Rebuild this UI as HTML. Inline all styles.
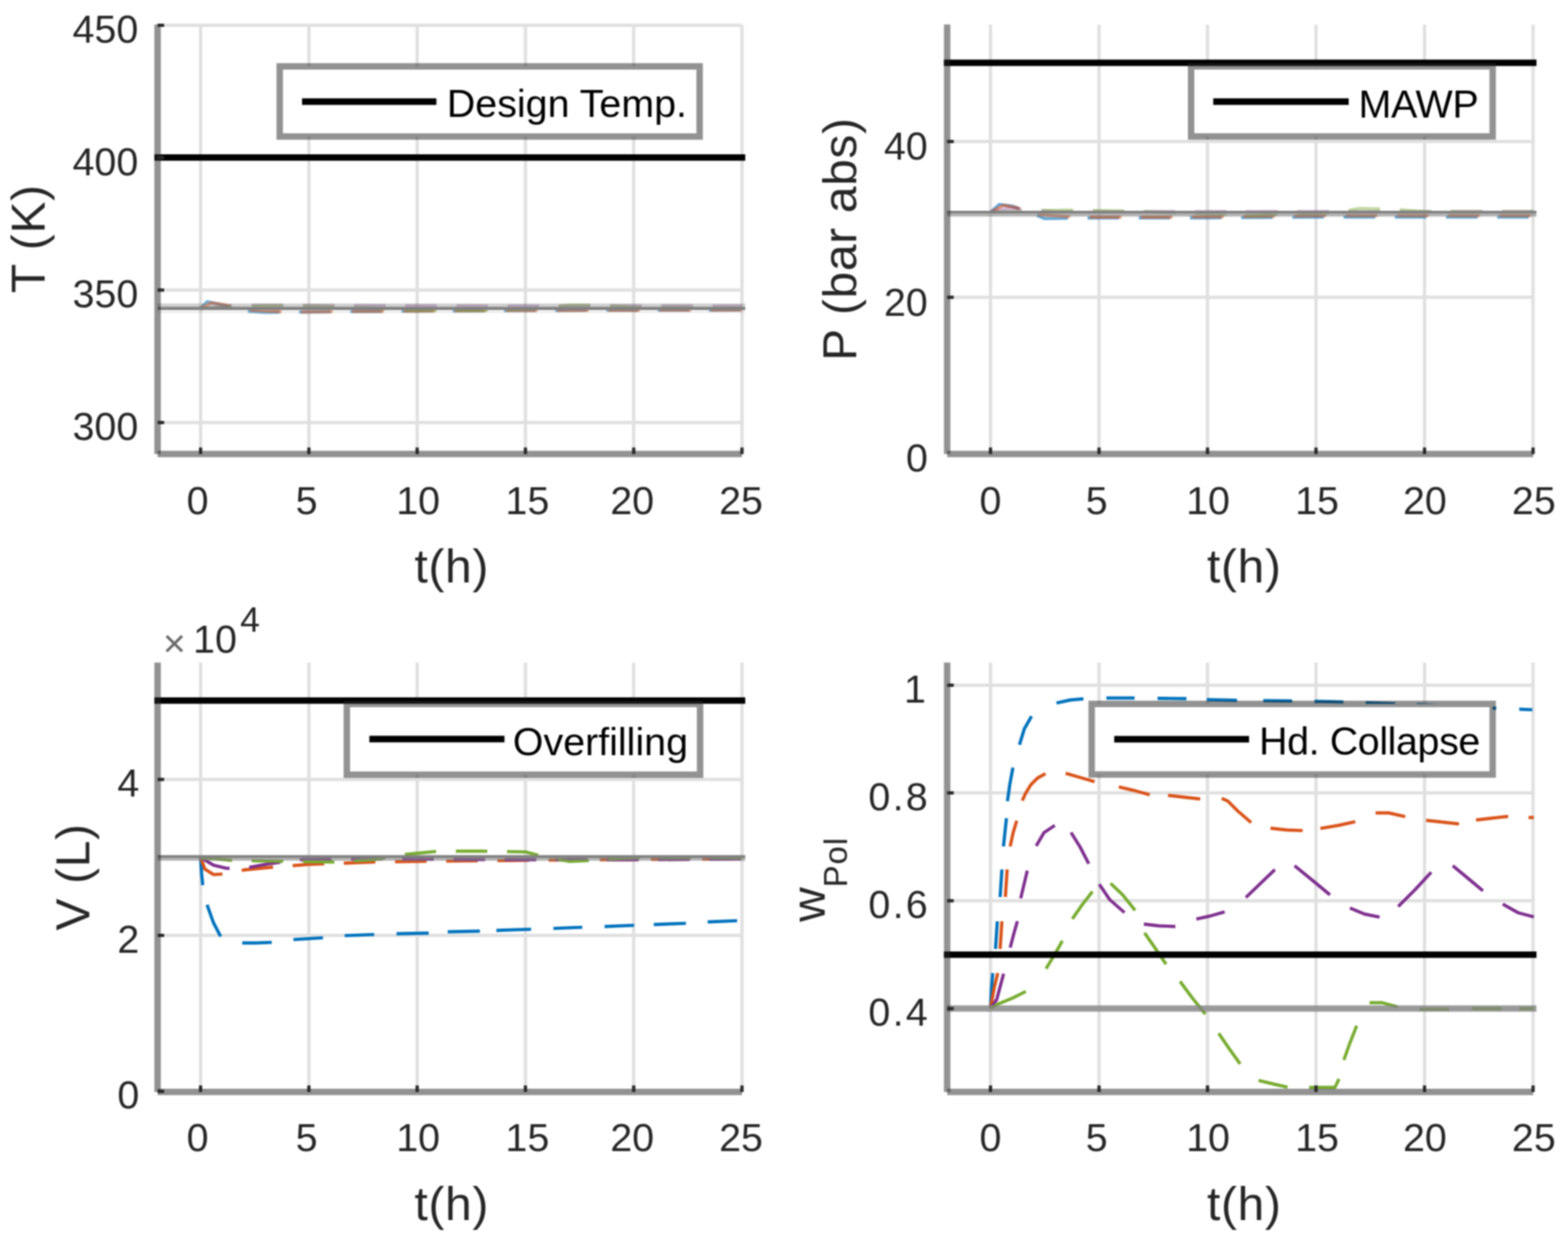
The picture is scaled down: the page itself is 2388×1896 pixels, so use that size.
<!DOCTYPE html>
<html><head><meta charset="utf-8"><title>Figure</title>
<style>html,body{margin:0;padding:0;background:#fff;overflow:hidden}svg{display:block;filter:blur(0.8px)}</style>
</head><body>
<svg width="2388" height="1896" viewBox="0 0 2388 1896">
<style>text{font-family:"Liberation Sans", Arial, Helvetica, sans-serif;fill:#262626} .tk{font-size:60px} .lb{font-size:73px;letter-spacing:1px} .lg{font-size:60px;fill:#000}</style>
<rect width="2388" height="1896" fill="#fff"/>
<path d="M305.5 38.4V691.4M470.4 38.4V691.4M635.3 38.4V691.4M800.2 38.4V691.4M965.1 38.4V691.4M1130 38.4V691.4M240 643.5H1130M240 441.8H1130M240 240.1H1130M240 38.4H1130" stroke="#e0e0e0" stroke-width="5" fill="none"/>
<path d="M305.5 469.2 L315.4 459.5 L335.2 463.6 L364.9 473.3 L404.4 475.7 L503.4 474.9 L635.3 473.7 L800.2 472.9 L965.1 472.5 L1130 472.1" stroke="#0072BD" stroke-width="4.9" fill="none" stroke-dasharray="48 30" stroke-linejoin="round" stroke-opacity="0.55"/>
<path d="M305.5 469.2 L322 461.2 L341.8 464 L378.1 472.1 L437.4 475.3 L569.3 474.1 L767.2 472.9 L965.1 472.5 L1130 472.1" stroke="#D95319" stroke-width="4.9" fill="none" stroke-dasharray="48 30" stroke-linejoin="round" stroke-opacity="0.55"/>
<path d="M305.5 470 L355 465.2 L404.4 464.8 L503.4 465.2 L635.3 465.6 L800.2 466 L965.1 465.6 L1130 466" stroke="#7E2F8E" stroke-width="4.9" fill="none" stroke-dasharray="48 30" stroke-linejoin="round" stroke-opacity="0.35"/>
<path d="M305.5 470 L371.5 466 L437.4 465.2 L536.4 468 L635.3 472.5 L734.2 472.9 L833.2 469.2 L866.2 464.4 L915.6 464.8 L965.1 468 L1130 469.2" stroke="#77AC30" stroke-width="4.9" fill="none" stroke-dasharray="48 30" stroke-linejoin="round" stroke-opacity="0.45"/>
<path d="M240 464.7H1135" stroke="#808080" stroke-opacity="0.38" stroke-width="5" fill="none"/>
<path d="M240 469.6H1135" stroke="#808080" stroke-opacity="1" stroke-width="4.8" fill="none"/>
<path d="M240 474.4H1135" stroke="#808080" stroke-opacity="0.12" stroke-width="5" fill="none"/>
<path d="M235 239.8H1135" stroke="#000" stroke-width="9.8" fill="none"/>
<rect x="426" y="101.1" width="639.5" height="106.8" fill="#fff"/>
<rect x="426" y="101.1" width="639.5" height="106.8" fill="none" stroke="#262626" stroke-opacity="0.5" stroke-width="9.8"/>
<path d="M460 154.7H664.6" stroke="#000" stroke-width="10"/>
<text x="680.5" y="178.4" class="lg" style="letter-spacing:0px">Design Temp.</text>
<path d="M305.5 681.4V691.4M470.4 681.4V691.4M635.3 681.4V691.4M800.2 681.4V691.4M965.1 681.4V691.4M1130 681.4V691.4M240 643.5H250M240 441.8H250M240 240.1H250M240 38.4H250" stroke="#2b2b2b" stroke-width="5" fill="none"/>
<path d="M240 37.2V691.4" stroke="#262626" stroke-opacity="0.5" stroke-width="9.8" fill="none"/>
<path d="M240 691.4H1130" stroke="#262626" stroke-opacity="0.5" stroke-width="9.8" fill="none"/>
<text x="301" y="782.5" text-anchor="middle" class="tk">0</text>
<text x="466.9" y="782.5" text-anchor="middle" class="tk">5</text>
<text x="636.8" y="782.5" text-anchor="middle" class="tk">10</text>
<text x="803.2" y="782.5" text-anchor="middle" class="tk">15</text>
<text x="962.8" y="782.5" text-anchor="middle" class="tk">20</text>
<text x="1128.5" y="782.5" text-anchor="middle" class="tk">25</text>
<text x="210.5" y="670" text-anchor="end" class="tk">300</text>
<text x="210.5" y="468.3" text-anchor="end" class="tk">350</text>
<text x="210.5" y="266.6" text-anchor="end" class="tk">400</text>
<text x="210.5" y="64.9" text-anchor="end" class="tk">450</text>
<text x="688" y="887" text-anchor="middle" class="lb">t(h)</text>
<text transform="translate(67.5,363.5) rotate(-90)" text-anchor="middle" class="lb">T (K)</text>
<path d="M1508.5 37.4V691.4M1673.8 37.4V691.4M1839 37.4V691.4M2004.2 37.4V691.4M2169.5 37.4V691.4M2334.8 37.4V691.4M1442.5 452.8H2335M1442.5 215.4H2335" stroke="#e0e0e0" stroke-width="5" fill="none"/>
<path d="M1508.5 323.4 L1521.7 311.5 L1541.5 313.9 L1564.7 322.2 L1591.1 332.9 L1673.8 331.7 L1839 331.7 L2004.2 330.5 L2169.5 330.5 L2334.8 330.5" stroke="#0072BD" stroke-width="4.9" fill="none" stroke-dasharray="48 30" stroke-linejoin="round" stroke-opacity="0.6"/>
<path d="M1508.5 323.4 L1528.3 312.7 L1548.2 316.3 L1581.2 327 L1640.7 330.5 L1772.9 330.5 L1905.1 329.4 L2037.3 328.2 L2334.8 328.2" stroke="#D95319" stroke-width="4.9" fill="none" stroke-dasharray="48 30" stroke-linejoin="round" stroke-opacity="0.6"/>
<path d="M1508.5 323.4 L1534.9 317.5 L1564.7 318.7 L1607.7 322.2 L1772.9 322.2 L1971.2 322.2 L2334.8 322.2" stroke="#7E2F8E" stroke-width="4.9" fill="none" stroke-dasharray="48 30" stroke-linejoin="round" stroke-opacity="0.35"/>
<path d="M1508.5 323.4 L1574.6 321 L1640.7 319.9 L1739.8 322.2 L1905.1 328.2 L2037.3 323.4 L2070.3 317.5 L2119.9 318.7 L2169.5 322.2 L2334.8 322.2" stroke="#77AC30" stroke-width="4.9" fill="none" stroke-dasharray="48 30" stroke-linejoin="round" stroke-opacity="0.45"/>
<path d="M1442.5 323H2340" stroke="#808080" stroke-opacity="1" stroke-width="4" fill="none"/>
<path d="M1442.5 327.4H2340" stroke="#808080" stroke-opacity="0.6" stroke-width="4.8" fill="none"/>
<path d="M1437.5 95.7H2340" stroke="#000" stroke-width="9.8" fill="none"/>
<rect x="1814" y="101" width="459.3" height="106.8" fill="#fff"/>
<rect x="1814" y="101" width="459.3" height="106.8" fill="none" stroke="#262626" stroke-opacity="0.5" stroke-width="9.8"/>
<path d="M1847.7 154.8H2054" stroke="#000" stroke-width="10"/>
<text x="2069" y="178.5" class="lg" style="letter-spacing:-0.5px">MAWP</text>
<path d="M1508.5 681.4V691.4M1673.8 681.4V691.4M1839 681.4V691.4M2004.2 681.4V691.4M2169.5 681.4V691.4M2334.8 681.4V691.4M1442.5 452.8H1452.5M1442.5 215.4H1452.5" stroke="#2b2b2b" stroke-width="5" fill="none"/>
<path d="M1442.5 37.2V691.4" stroke="#262626" stroke-opacity="0.5" stroke-width="9.8" fill="none"/>
<path d="M1442.5 691.4H2335" stroke="#262626" stroke-opacity="0.5" stroke-width="9.8" fill="none"/>
<text x="1508.5" y="782.5" text-anchor="middle" class="tk">0</text>
<text x="1670.2" y="782.5" text-anchor="middle" class="tk">5</text>
<text x="1839.8" y="782.5" text-anchor="middle" class="tk">10</text>
<text x="2005.8" y="782.5" text-anchor="middle" class="tk">15</text>
<text x="2170" y="782.5" text-anchor="middle" class="tk">20</text>
<text x="2335.9" y="782.5" text-anchor="middle" class="tk">25</text>
<text x="1413" y="718.2" text-anchor="end" class="tk">0</text>
<text x="1413" y="480.8" text-anchor="end" class="tk">20</text>
<text x="1413" y="243.4" text-anchor="end" class="tk">40</text>
<text x="1895" y="887" text-anchor="middle" class="lb">t(h)</text>
<text transform="translate(1304,364) rotate(-90)" text-anchor="middle" class="lb">P (bar abs)</text>
<path d="M305.5 1009V1662.9M470.4 1009V1662.9M635.3 1009V1662.9M800.2 1009V1662.9M965.1 1009V1662.9M1130 1009V1662.9M240 1424.5H1130M240 1187H1130" stroke="#e0e0e0" stroke-width="5" fill="none"/>
<path d="M305.5 1305.8 L307.0 1330.0 L309.0 1350.0 L314.7 1376.0 L325.0 1405.0 L337.0 1428.0 L350.0 1434.0 L367.0 1436.0 L391.0 1436.0 L416.0 1435.0 L445.0 1431.0 L494.0 1428.0 L523.0 1425.0 L572.0 1423.0 L602.0 1422.0 L655.0 1421.0 L680.0 1419.0 L733.0 1418.0 L754.0 1417.0 L811.0 1415.0 L841.0 1414.0 L889.0 1412.0 L919.0 1411.0 L968.0 1409.0 L994.0 1408.0 L1047.0 1406.0 L1076.0 1404.0 L1125.0 1402.0 L1130.0 1401.5" stroke="#0072BD" stroke-width="4.9" fill="none" stroke-dasharray="42.3 30.6 52.7 35.4 45.0 33.3 45.1 33.2 45.0 34.0 49.0 29.1 49.0 25.0 53.0 34.0 44.0 34.0 45.0 30.0 49.0 33.1 45.0 1005.0" stroke-linejoin="round"/>
<path d="M305.5 1305.8 L312.1 1323.6 L325.3 1331.9 L345.1 1330.7 L371.5 1324.8 L420.9 1320 L470.4 1316.4 L569.3 1312.9 L635.3 1311.7 L767.2 1310.5 L899.1 1309.3 L1130 1308.1" stroke="#D95319" stroke-width="4.9" fill="none" stroke-dasharray="48 30" stroke-linejoin="round"/>
<path d="M305.5 1305.8 L325.3 1317.6 L345.1 1322.4 L378.1 1321.2 L411 1315.2 L453.9 1309.3 L569.3 1308.1 L800.2 1309.3 L965.1 1309.3 L1130 1308.1" stroke="#7E2F8E" stroke-width="4.9" fill="none" stroke-dasharray="48 30" stroke-linejoin="round"/>
<path d="M305.5 1305.8 L355 1310.5 L437.4 1311.7 L503.4 1312.9 L569.3 1309.3 L618.8 1301 L668.3 1296.2 L734.2 1296.2 L800.2 1297.4 L833.2 1305.8 L866.2 1311.7 L899.1 1310.5 L965.1 1305.8 L1130 1305.8" stroke="#77AC30" stroke-width="4.9" fill="none" stroke-dasharray="48 30" stroke-linejoin="round"/>
<path d="M240 1304.5H1135" stroke="#808080" stroke-opacity="1" stroke-width="4.4" fill="none"/>
<path d="M240 1308.8H1135" stroke="#808080" stroke-opacity="0.6" stroke-width="4.1" fill="none"/>
<path d="M235 1066.8H1135" stroke="#000" stroke-width="9.8" fill="none"/>
<rect x="528.2" y="1072" width="538" height="107.8" fill="#fff"/>
<rect x="528.2" y="1072" width="538" height="107.8" fill="none" stroke="#262626" stroke-opacity="0.5" stroke-width="9.8"/>
<path d="M562.5 1125.6H768.3" stroke="#000" stroke-width="10"/>
<text x="781" y="1149.5" class="lg" style="letter-spacing:0px">Overfilling</text>
<path d="M305.5 1652.9V1662.9M470.4 1652.9V1662.9M635.3 1652.9V1662.9M800.2 1652.9V1662.9M965.1 1652.9V1662.9M1130 1652.9V1662.9M240 1662H250M240 1424.5H250M240 1187H250" stroke="#2b2b2b" stroke-width="5" fill="none"/>
<path d="M240 1009.1V1662.9" stroke="#262626" stroke-opacity="0.5" stroke-width="9.8" fill="none"/>
<path d="M240 1662.9H1130" stroke="#262626" stroke-opacity="0.5" stroke-width="9.8" fill="none"/>
<text x="301" y="1753" text-anchor="middle" class="tk">0</text>
<text x="466.9" y="1753" text-anchor="middle" class="tk">5</text>
<text x="636.8" y="1753" text-anchor="middle" class="tk">10</text>
<text x="803.2" y="1753" text-anchor="middle" class="tk">15</text>
<text x="962.8" y="1753" text-anchor="middle" class="tk">20</text>
<text x="1128.5" y="1753" text-anchor="middle" class="tk">25</text>
<text x="212" y="1688" text-anchor="end" class="tk">0</text>
<text x="212" y="1450.5" text-anchor="end" class="tk">2</text>
<text x="212" y="1213" text-anchor="end" class="tk">4</text>
<text x="688" y="1857.6" text-anchor="middle" class="lb">t(h)</text>
<text transform="translate(135.5,1335.5) rotate(-90)" text-anchor="middle" class="lb">V (L)</text>
<text x="248" y="993.7" class="tk"><tspan fill="#6a6a6a" dy="6">×</tspan><tspan dx="11" dy="-6">10</tspan><tspan dx="5" dy="-32" style="font-size:54px">4</tspan></text>
<path d="M1508.5 1009V1662.9M1673.8 1009V1662.9M1839 1009V1662.9M2004.2 1009V1662.9M2169.5 1009V1662.9M2334.8 1009V1662.9M1442.5 1535.9H2335M1442.5 1371.8H2335M1442.5 1207.6H2335M1442.5 1043.5H2335" stroke="#e0e0e0" stroke-width="5" fill="none"/>
<path d="M1508.5 1535.9 L1510.0 1505.0 L1512.0 1480.0 L1516.0 1447.0 L1519.0 1401.0 L1523.0 1368.0 L1526.0 1322.0 L1528.0 1291.0 L1533.0 1244.0 L1534.0 1222.0 L1538.0 1194.0 L1543.0 1167.0 L1552.0 1136.0 L1560.0 1110.0 L1572.0 1089.0 L1607.0 1071.0 L1630.0 1066.0 L1652.0 1064.0 L1683.0 1063.0 L1730.0 1063.0 L1761.0 1063.5 L1809.0 1064.0 L1836.0 1065.5 L1886.0 1066.5 L1922.0 1067.0 L1970.0 1067.5 L2000.0 1068.0 L2048.0 1069.0 L2078.0 1070.0 L2127.0 1072.0 L2156.0 1073.0 L2205.0 1075.0 L2234.0 1076.0 L2258.0 1077.0 L2281.0 1079.0 L2312.0 1080.0 L2336.0 1081.0" stroke="#0072BD" stroke-width="4.9" fill="none" stroke-dasharray="54.0 37.2 42.1 37.2 42.1 35.1 43.3 26.0 51.7 36.3 47.4 43.4 41.6 35.0 43.0 35.0 44.0 31.0 46.0 40.0 44.0 34.0 44.0 34.0 45.0 33.0 45.0 33.0 43.1 35.0 20.0 1000.0" stroke-linejoin="round"/>
<path d="M1508.5 1535.9 L1514.0 1505.0 L1520.0 1480.0 L1523.0 1447.0 L1526.0 1401.0 L1531.0 1368.0 L1534.0 1322.0 L1538.0 1291.0 L1543.0 1268.0 L1549.0 1248.0 L1556.0 1221.0 L1562.0 1208.0 L1570.0 1195.0 L1580.0 1185.0 L1594.0 1177.0 L1621.0 1177.0 L1645.0 1184.0 L1669.0 1191.0 L1702.0 1198.0 L1728.0 1204.0 L1753.0 1211.0 L1777.0 1211.0 L1803.0 1214.0 L1830.0 1217.0 L1859.0 1215.0 L1870.0 1220.0 L1885.0 1235.0 L1907.0 1254.0 L1933.0 1261.0 L1960.0 1264.0 L1986.0 1265.0 L2009.0 1262.0 L2038.0 1257.0 L2066.0 1251.0 L2093.0 1238.0 L2115.0 1238.0 L2142.0 1244.0 L2170.0 1249.0 L2197.0 1252.0 L2224.0 1255.0 L2246.0 1249.0 L2272.0 1246.0 L2299.0 1243.0 L2326.0 1245.0 L2338.0 1245.0" stroke="#D95319" stroke-width="4.9" fill="none" stroke-dasharray="55.1 37.1 42.1 37.4 42.1 35.3 40.4 31.9 55.8 31.0 46.0 37.7 48.6 28.0 49.3 33.1 58.4 30.9 49.2 27.2 54.1 34.0 45.7 32.4 50.3 26.8 49.3 31.1 8.0 1000.0" stroke-linejoin="round"/>
<path d="M1508.5 1535.9 L1518.0 1522.0 L1529.0 1481.0 L1538.0 1445.0 L1544.0 1422.0 L1550.0 1401.0 L1554.0 1370.0 L1560.0 1345.0 L1565.0 1324.0 L1577.0 1290.0 L1590.0 1268.0 L1608.0 1256.0 L1618.0 1254.0 L1630.0 1266.0 L1645.0 1290.0 L1659.0 1317.0 L1673.0 1345.0 L1690.0 1370.0 L1714.0 1391.0 L1740.0 1407.0 L1765.0 1410.0 L1792.0 1411.0 L1806.0 1408.0 L1820.0 1400.0 L1843.0 1395.0 L1867.0 1388.0 L1896.0 1368.0 L1920.0 1345.0 L1943.0 1323.0 L1956.0 1313.0 L1970.0 1317.0 L1998.0 1340.0 L2027.0 1364.0 L2040.0 1374.0 L2054.0 1382.0 L2078.0 1392.0 L2103.0 1397.0 L2114.0 1397.0 L2128.0 1382.0 L2155.0 1355.0 L2181.0 1327.0 L2196.0 1313.0 L2211.0 1317.0 L2235.0 1337.0 L2260.0 1358.0 L2287.0 1376.0 L2312.0 1390.0 L2338.0 1397.0" stroke="#7E2F8E" stroke-width="4.9" fill="none" stroke-dasharray="57.3 41.1 41.6 35.3 43.3 40.1 43.2 31.2 54.7 35.3 58.1 34.5 48.2 34.4 44.5 39.2 61.1 35.0 69.9 36.5 47.5 35.5 72.4 40.0 59.9 36.4 51.6 1000.0" stroke-linejoin="round"/>
<path d="M1508.5 1535.9 L1520.0 1529.0 L1542.0 1520.0 L1564.0 1509.0 L1592.0 1477.0 L1606.0 1454.0 L1619.0 1431.0 L1632.0 1401.0 L1648.0 1378.0 L1665.0 1356.0 L1680.0 1342.0 L1690.0 1344.0 L1710.0 1363.0 L1730.0 1388.0 L1742.0 1419.0 L1760.0 1445.0 L1777.0 1470.0 L1796.0 1493.0 L1816.0 1520.0 L1837.0 1546.0 L1855.0 1572.0 L1872.0 1597.0 L1890.0 1622.0 L1915.0 1645.0 L1940.0 1651.0 L1963.0 1656.0 L1992.0 1656.0 L2015.0 1656.0 L2033.0 1656.0 L2037.0 1648.0 L2040.0 1641.0 L2046.0 1616.0 L2056.0 1588.0 L2067.0 1560.0 L2084.0 1527.0 L2105.0 1527.0 L2131.0 1534.0 L2160.0 1537.0 L2209.0 1537.0 L2240.0 1536.0 L2289.0 1536.0 L2312.0 1536.0 L2338.0 1536.0" stroke="#77AC30" stroke-width="4.9" fill="none" stroke-dasharray="59.8 46.5 49.3 36.7 51.8 34.7 55.6 37.2 57.9 33.8 63.0 35.6 57.0 38.0 45.2 33.0 53.6 29.7 55.8 41.1 43.9 33.2 45.0 35.0 45.0 27.0 22.0 1000.0" stroke-linejoin="round"/>
<path d="M1442.5 1535.9H2340" stroke="#808080" stroke-opacity="0.75" stroke-width="9.8" fill="none"/>
<path d="M1437.5 1453.8H2340" stroke="#000" stroke-width="9.8" fill="none"/>
<rect x="1662.6" y="1072" width="610.7" height="107.5" fill="#fff"/>
<rect x="1662.6" y="1072" width="610.7" height="107.5" fill="none" stroke="#262626" stroke-opacity="0.5" stroke-width="9.8"/>
<path d="M1696.9 1125.7H1902.3" stroke="#000" stroke-width="10"/>
<text x="1917.5" y="1149.4" class="lg" style="letter-spacing:-0.6px">Hd. Collapse</text>
<path d="M1508.5 1652.9V1662.9M1673.8 1652.9V1662.9M1839 1652.9V1662.9M2004.2 1652.9V1662.9M2169.5 1652.9V1662.9M2334.8 1652.9V1662.9M1442.5 1535.9H1452.5M1442.5 1371.8H1452.5M1442.5 1207.6H1452.5M1442.5 1043.5H1452.5" stroke="#2b2b2b" stroke-width="5" fill="none"/>
<path d="M1442.5 1009.1V1662.9" stroke="#262626" stroke-opacity="0.5" stroke-width="9.8" fill="none"/>
<path d="M1442.5 1662.9H2335" stroke="#262626" stroke-opacity="0.5" stroke-width="9.8" fill="none"/>
<text x="1508.5" y="1753" text-anchor="middle" class="tk">0</text>
<text x="1670.2" y="1753" text-anchor="middle" class="tk">5</text>
<text x="1839.8" y="1753" text-anchor="middle" class="tk">10</text>
<text x="2005.8" y="1753" text-anchor="middle" class="tk">15</text>
<text x="2170" y="1753" text-anchor="middle" class="tk">20</text>
<text x="2335.9" y="1753" text-anchor="middle" class="tk">25</text>
<text x="1416.5" y="1561.9" text-anchor="end" class="tk" style="letter-spacing:3.5px">0.4</text>
<text x="1416.5" y="1397.8" text-anchor="end" class="tk" style="letter-spacing:3.5px">0.6</text>
<text x="1416.5" y="1233.6" text-anchor="end" class="tk" style="letter-spacing:3.5px">0.8</text>
<text x="1410" y="1069.5" text-anchor="end" class="tk">1</text>
<text x="1895" y="1857.6" text-anchor="middle" class="lb">t(h)</text>
<text transform="translate(1255.5,1404) rotate(-90)" class="lb" style="letter-spacing:0">w<tspan dy="34" style="font-size:50px;letter-spacing:1.5px">Pol</tspan></text>
</svg>
</body></html>
